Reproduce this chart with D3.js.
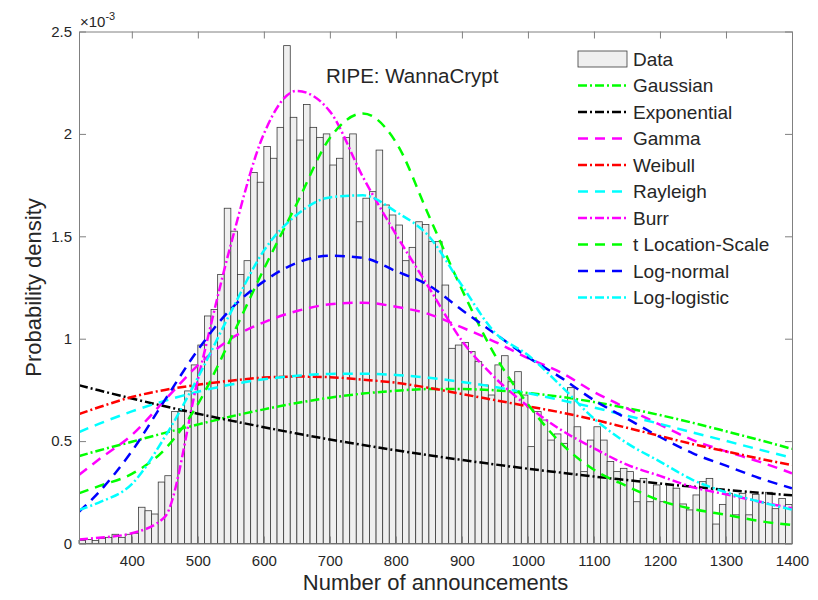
<!DOCTYPE html>
<html>
<head>
<meta charset="utf-8">
<script src="https://cdn.jsdelivr.net/npm/d3@7"></script>
<style>
  body { margin: 0; background: #fff; }
  text { font-family: "Liberation Sans", Arial, sans-serif; fill: #262626; }
</style>
</head>
<body>
<div id="chart"></div>
<script>
// histogram: bins of width 10 starting at 320, heights in units of 1e-3
var binStart = 320, binWidth = 10;
var binHeights = [
  0.015, 0.02, 0.015, 0.025, 0.03, 0.045, 0.03, 0.045, 0.05, 0.177,
  0.16, 0.144, 0.30, 0.331, 0.644, 0.644, 0.745, 0.872, 0.969, 1.111,
  1.143, 1.314, 1.637, 1.525, 1.314, 1.381, 1.812, 1.764, 1.938, 1.881,
  2.032, 2.431, 2.081, 1.970, 2.144, 2.032, 1.983, 2.0, 1.848, 1.881,
  1.983, 2.0, 1.571, 1.686, 1.718, 1.921, 1.653, 1.604, 1.555, 1.381,
  1.446, 1.571, 1.558, 1.474, 1.474, 1.262, 0.953, 0.969, 0.982, 0.937,
  0.888, 0.774, 0.725, 0.872, 0.917, 0.790, 0.839, 0.725, 0.473, 0.644,
  0.603, 0.505, 0.535, 0.489, 0.761, 0.570, 0.351, 0.505, 0.570, 0.505,
  0.40, 0.351, 0.367, 0.351, 0.204, 0.318, 0.204, 0.286, 0.204, 0.286,
  0.27, 0.193, 0.164, 0.237, 0.302, 0.318, 0.095, 0.191, 0.245, 0.14,
  0.245, 0.14, 0.24, 0.20, 0.25, 0.17, 0.22, 0.19
];

var curveX = [320, 350, 400, 450, 500, 550, 600, 650, 700, 750, 800, 850,
              900, 950, 1000, 1050, 1100, 1150, 1200, 1250, 1300, 1350, 1400];
var gaussian    = [0.427,0.454,0.497,0.540,0.581,0.620,0.655,0.686,0.712,0.732,0.746,0.754,0.754,0.748,0.735,0.716,0.691,0.661,0.627,0.589,0.548,0.506,0.462];
var exponential = [0.773,0.748,0.708,0.670,0.634,0.600,0.568,0.537,0.508,0.481,0.455,0.431,0.408,0.386,0.365,0.346,0.327,0.310,0.293,0.277,0.262,0.248,0.235];
var gammaFit    = [0.335,0.41,0.53,0.70,0.87,1.0,1.08,1.135,1.168,1.176,1.156,1.12,1.055,0.985,0.905,0.835,0.74,0.66,0.58,0.505,0.45,0.40,0.343];
var weibull     = [0.632,0.665,0.715,0.75,0.775,0.795,0.81,0.815,0.812,0.80,0.785,0.76,0.73,0.70,0.67,0.64,0.605,0.565,0.525,0.485,0.45,0.415,0.383];
var rayleigh    = [0.544,0.584,0.645,0.697,0.741,0.776,0.802,0.819,0.828,0.829,0.823,0.809,0.789,0.764,0.734,0.700,0.664,0.624,0.584,0.542,0.501,0.459,0.419];
var burr        = [0.02,0.028,0.05,0.13,0.80,1.46,2.0,2.21,2.11,1.79,1.51,1.25,0.99,0.81,0.67,0.555,0.465,0.385,0.33,0.275,0.24,0.205,0.172];
var tLocScale   = [0.245,0.28,0.34,0.46,0.68,1.0,1.34,1.66,1.98,2.10,1.96,1.60,1.24,0.92,0.68,0.49,0.36,0.28,0.21,0.168,0.14,0.11,0.09];
var logNormal   = [0.155,0.25,0.45,0.70,0.945,1.145,1.28,1.37,1.405,1.395,1.33,1.26,1.14,1.025,0.91,0.81,0.70,0.61,0.52,0.44,0.38,0.32,0.27];
var logLogistic = [0.164,0.20,0.29,0.52,0.81,1.13,1.43,1.605,1.69,1.70,1.62,1.50,1.26,1.03,0.92,0.77,0.61,0.49,0.40,0.31,0.25,0.205,0.165];

var xTicks = [400, 500, 600, 700, 800, 900, 1000, 1100, 1200, 1300, 1400];
var yTicks = [0, 0.5, 1, 1.5, 2, 2.5];

var dashDot = "9,3,2,3", dashed = "10,7";
var series = [
  {name: "Gaussian",          values: gaussian,    color: "#00ff00", dash: dashDot},
  {name: "Exponential",       values: exponential, color: "#000000", dash: dashDot},
  {name: "Gamma",             values: gammaFit,    color: "#ff00ff", dash: dashed},
  {name: "Weibull",           values: weibull,     color: "#ff0000", dash: dashDot},
  {name: "Rayleigh",          values: rayleigh,    color: "#00ffff", dash: dashed},
  {name: "Burr",              values: burr,        color: "#ff00ff", dash: dashDot},
  {name: "t Location-Scale",  values: tLocScale,   color: "#00ff00", dash: dashed},
  {name: "Log-normal",        values: logNormal,   color: "#0000ff", dash: dashed},
  {name: "Log-logistic",      values: logLogistic, color: "#00ffff", dash: dashDot}
];

var W = 818, H = 600;
var plotL = 79, plotR = 792, plotT = 31.5, plotB = 543.5;

var svg = d3.select("#chart").append("svg")
  .attr("width", W).attr("height", H);

var x = d3.scaleLinear().domain([320, 1400]).range([plotL, plotR]);
var y = d3.scaleLinear().domain([0, 2.5]).range([plotB, plotT]);

svg.append("clipPath").attr("id", "plotClip")
  .append("rect").attr("x", plotL).attr("y", plotT)
  .attr("width", plotR - plotL).attr("height", plotB - plotT);

// bars
svg.append("g").selectAll("rect")
  .data(binHeights)
  .enter()
  .append("rect")
    .attr("x", function(d, i) { return x(binStart + i * binWidth); })
    .attr("y", function(d) { return y(d); })
    .attr("width", x(binStart + binWidth) - x(binStart))
    .attr("height", function(d) { return y(0) - y(d); })
    .attr("fill", "#efefef")
    .attr("stroke", "#3a3a3a")
    .attr("stroke-width", 0.8);

// fitted curves
var line = d3.line()
  .x(function(d, i) { return x(curveX[i]); })
  .y(function(d) { return y(d); })
  .curve(d3.curveMonotoneX);

svg.append("g").attr("clip-path", "url(#plotClip)")
  .selectAll("path")
  .data(series)
  .enter()
  .append("path")
    .attr("d", function(s) { return line(s.values); })
    .attr("fill", "none")
    .attr("stroke", function(s) { return s.color; })
    .attr("stroke-width", 2.5)
    .attr("stroke-dasharray", function(s) { return s.dash; });

// axes (box with inward ticks on all sides)
var axisColor = "#808080";
var tickLen = 7;
var xAxisB = svg.append("g").attr("transform", "translate(0," + plotB + ")")
  .call(d3.axisBottom(x).tickValues(xTicks).tickSizeInner(-tickLen).tickSizeOuter(0).tickPadding(12)
    .tickFormat(d3.format("d")));
var xAxisT = svg.append("g").attr("transform", "translate(0," + plotT + ")")
  .call(d3.axisTop(x).tickValues(xTicks).tickSizeInner(-tickLen).tickSizeOuter(0).tickFormat(""));
var yAxisL = svg.append("g").attr("transform", "translate(" + plotL + ",0)")
  .call(d3.axisLeft(y).tickValues(yTicks).tickSizeInner(-tickLen).tickSizeOuter(0).tickPadding(7)
    .tickFormat(d3.format("~g")));
var yAxisR = svg.append("g").attr("transform", "translate(" + plotR + ",0)")
  .call(d3.axisRight(y).tickValues(yTicks).tickSizeInner(-tickLen).tickSizeOuter(0).tickFormat(""));

[xAxisB, xAxisT, yAxisL, yAxisR].forEach(function(a) {
  a.select(".domain").attr("stroke", axisColor).attr("stroke-width", 1);
  a.selectAll(".tick line").attr("stroke", axisColor).attr("stroke-width", 1);
  a.selectAll(".tick text").attr("fill", "#262626")
    .style("font-family", "'Liberation Sans', Arial, sans-serif").style("font-size", "15px");
});

// exponent label
var expo = svg.append("text").attr("x", 80).attr("y", 27).style("font-size", "15px");
expo.append("tspan").text("\u00d710");
expo.append("tspan").attr("dy", -7).style("font-size", "11px").text("-3");

// axis labels
svg.append("text")
  .attr("x", (plotL + plotR) / 2).attr("y", 590)
  .attr("text-anchor", "middle").style("font-size", "22px")
  .text("Number of announcements");
svg.append("text")
  .attr("transform", "translate(41," + ((plotT + plotB) / 2) + ") rotate(-90)")
  .attr("text-anchor", "middle").style("font-size", "22px")
  .text("Probability density");

// title inside the plot
svg.append("text")
  .attr("x", 326).attr("y", 83)
  .style("font-size", "20.5px")
  .text("RIPE: WannaCrypt");

// legend
var lgX = 578, lgW = 49, lgY0 = 59, lgStep = 26.5;
var legend = svg.append("g");
legend.append("rect")
  .attr("x", lgX).attr("y", lgY0 - 8).attr("width", lgW).attr("height", 16)
  .attr("fill", "#efefef").attr("stroke", "#3a3a3a").attr("stroke-width", 0.8);
legend.append("text")
  .attr("x", lgX + lgW + 6).attr("y", lgY0 + 6.8).style("font-size", "19px")
  .text("Data");
series.forEach(function(s, i) {
  var yy = lgY0 + (i + 1) * lgStep;
  legend.append("line")
    .attr("x1", lgX).attr("x2", lgX + lgW).attr("y1", yy).attr("y2", yy)
    .attr("stroke", s.color).attr("stroke-width", 2.5)
    .attr("stroke-dasharray", s.dash);
  legend.append("text")
    .attr("x", lgX + lgW + 6).attr("y", yy + 6.8).style("font-size", "19px")
    .text(s.name);
});
</script>
</body>
</html>
